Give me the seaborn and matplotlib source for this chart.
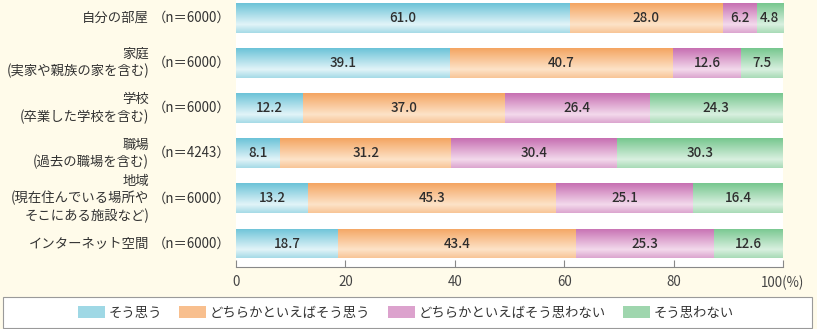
import numpy as np
import pandas as pd
import matplotlib
matplotlib.use("Agg")
import matplotlib.pyplot as plt
import seaborn as sns
from matplotlib.patches import Patch, Rectangle
from matplotlib.colors import LinearSegmentedColormap
from matplotlib.transforms import blended_transform_factory

categories = ["自分の部屋", "家庭\n(実家や親族の家を含む)", "学校\n(卒業した学校を含む)",
              "職場\n(過去の職場を含む)", "地域\n(現在住んでいる場所や\nそこにある施設など)",
              "インターネット空間"]
n_labels = ["（n＝6000）", "（n＝6000）", "（n＝6000）", "（n＝4243）", "（n＝6000）", "（n＝6000）"]
series_names = ["そう思う", "どちらかといえばそう思う", "どちらかといえばそう思わない", "そう思わない"]
v_agree = [61.0, 39.1, 12.2, 8.1, 13.2, 18.7]
v_some_agree = [28.0, 40.7, 37.0, 31.2, 45.3, 43.4]
v_some_disagree = [6.2, 12.6, 26.4, 30.4, 25.1, 25.3]
v_disagree = [4.8, 7.5, 24.3, 30.3, 16.4, 12.6]
xticks = [0, 20, 40, 60, 80, 100]
xtick_labels = ["0", "20", "40", "60", "80", "100(%)"]

values = [v_agree, v_some_agree, v_some_disagree, v_disagree]
# (dark top, light, bottom) per series
grad = [("#6cc3d8", "#e2f4f8", "#a6dbe7"),
        ("#f4a562", "#fde3c8", "#f8c597"),
        ("#c770b2", "#f3d9ec", "#dca6cf"),
        ("#77c78f", "#d9f0e0", "#a9dbb7")]
legend_colors = ["#9fd8e5", "#f8bf8e", "#dca2cd", "#9fd6ae"]

FONT = ["Noto Sans CJK JP", "DejaVu Sans"]
sns.set_theme(style="white")
plt.rcParams["font.family"] = FONT

W, H = 817, 329
FS = 9.6
fig = plt.figure(figsize=(W / 100, H / 100), dpi=100)
fig.patch.set_facecolor("#fffbea")
ax = fig.add_axes([236 / W, 1 - 267 / H, (783 - 236) / W, 267 / H])
ax.set_facecolor("white")

df = pd.DataFrame({"cat": categories})
left = np.zeros(len(categories))
for name, vals, g in zip(series_names, values, grad):
    df["v"] = vals
    n_before = len(ax.patches)
    sns.barplot(data=df, x="v", y="cat", orient="h", left=left.copy(), color=g[0],
                width=0.66, ax=ax, linewidth=0, edgecolor="none", saturation=1)
    cmap = LinearSegmentedColormap.from_list("g", [(0, g[0]), (0.72, g[1]), (1, g[2])])
    grad_img = np.linspace(0, 1, 64).reshape(-1, 1)
    for p in ax.patches[n_before:]:
        x0, y0 = p.get_x(), p.get_y()
        w, h = p.get_width(), p.get_height()
        im = ax.imshow(grad_img, cmap=cmap, aspect="auto",
                       extent=(x0, x0 + w, y0 + h, y0), zorder=2, interpolation="bilinear")
        im.set_clip_path(p)
    for i, (l, v) in enumerate(zip(left, vals)):
        ax.text(l + v / 2, i, f"{v:.1f}", ha="center", va="center", fontsize=FS,
                color="#2e2e2e", zorder=5, family=FONT, fontweight="medium")
    left = left + np.array(vals)

ax.set_xlim(0, 100)
ax.set_ylim(5.52, -0.39)
ax.set_xlabel("")
ax.set_ylabel("")
ax.set_yticks([])
ax.set_xticks(xticks)
ax.set_xticklabels(xtick_labels, fontsize=FS, color="#444444")
ax.tick_params(axis="x", direction="in", length=5, width=0.8, color="#888888", pad=6, bottom=True)
for s in ["top", "left", "right"]:
    ax.spines[s].set_visible(False)
ax.spines["bottom"].set_color("#888888")
ax.spines["bottom"].set_linewidth(0.8)

tr = blended_transform_factory(fig.transFigure, ax.transData)
for i, (c, nl) in enumerate(zip(categories, n_labels)):
    ax.text(149 / W, i, c, transform=tr, ha="right", va="center", fontsize=FS,
            color="#333333", multialignment="right", linespacing=1.25, family=FONT)
    ax.text(230 / W, i, nl, transform=tr, ha="right", va="center", fontsize=FS,
            color="#333333", family=FONT)

fig.add_artist(Rectangle((3 / W, 1 - 328 / H), 809 / W, 31 / H, transform=fig.transFigure,
                         facecolor="white", edgecolor="#9a9a9a", linewidth=0.8, zorder=0))
handles = [Patch(facecolor=c, edgecolor="none") for c in legend_colors]
leg = fig.legend(handles, series_names, ncol=4, loc="center",
                 bbox_to_anchor=(406 / W, 1 - 313 / H), frameon=False,
                 handlelength=2.0, handleheight=1.0, handletextpad=0.3, columnspacing=1.3,
                 prop={"family": FONT, "size": FS})
for t in leg.get_texts():
    t.set_color("#333333")

fig.savefig("out.png", dpi=100, facecolor=fig.get_facecolor())
